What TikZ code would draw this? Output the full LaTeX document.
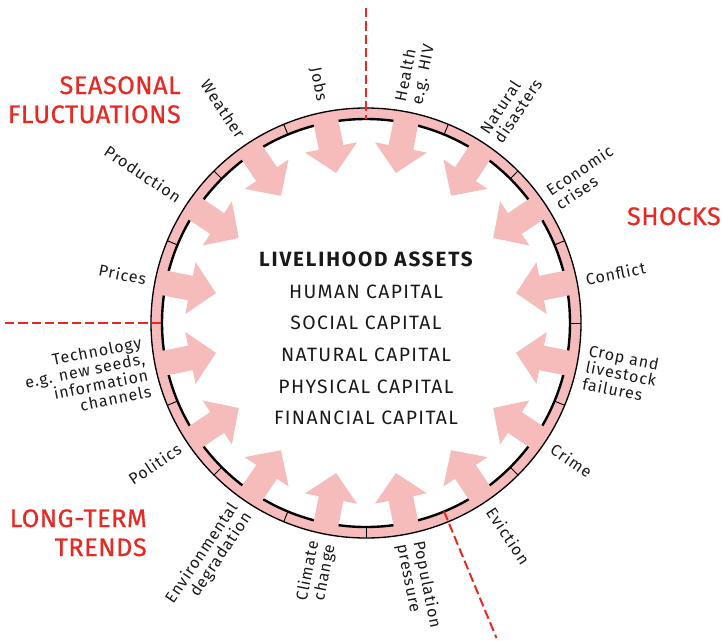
\documentclass[tikz,border=0pt]{standalone}
\usepackage{fontspec}
\setmainfont{Fira Sans}
\newfontfamily\lblfont[LetterSpace=6]{Fira Sans}
\newfontfamily\ctrfont[LetterSpace=7]{Fira Sans}
\newfontfamily\boldctrfont[LetterSpace=9]{Fira Sans}
\newfontfamily\ttlfont[LetterSpace=2,FakeBold=0.6]{Fira Sans}
\definecolor{pinkc}{RGB}{246,188,187}
\definecolor{redc}{RGB}{232,40,35}
\definecolor{inkc}{RGB}{25,25,25}
\begin{document}
\begin{tikzpicture}[x=0.75pt,y=0.75pt,
  lbl/.style={font=\lblfont\fontsize{12}{12.6}\selectfont, inner sep=0pt, text=inkc},
  lblR/.style={lbl, anchor=west, align=left},
  lblL/.style={lbl, anchor=east, align=right},
  ctr/.style={font=\ctrfont\fontsize{14.5}{16}\selectfont, inner sep=0pt, text=inkc, anchor=base},
  ttl/.style={font=\ttlfont\fontsize{19}{21}\selectfont, text=redc, inner sep=0pt},
  reddash/.style={draw=redc, line width=1.5pt, dash pattern=on 7pt off 3pt},
  tick/.style={draw=black, line width=0.7pt},
  blockarrow/.style={fill=pinkc, draw=none}]
\useasboundingbox (-366,-317) rectangle (357,323);
% ring
\fill[pinkc, even odd rule] (0,0) circle[radius=215] (0,0) circle[radius=204];
\draw[black, line width=1.8pt] (0,0) circle[radius=204];
\foreach \t in {0,22.5,45,67.5,112.5,135,157.5,202.5,225,247.5,270,315,337.5}
  \draw[tick] (\t:204) -- (\t:215);
% block arrows
\foreach \k in {0,...,15}{
  \pgfmathsetmacro{\ang}{11.25+22.5*\k}
  \fill[blockarrow, rotate=\ang] (215,12.5) -- (179,12.5) -- (179,26.5) -- (153,0)
     -- (179,-26.5) -- (179,-12.5) -- (215,-12.5) -- cycle;
}
\draw[black, line width=1pt] (0,0) circle[radius=215];
% red dashed dividers
\coordinate (d1a) at (90:204);   \coordinate (d1b) at (90:315);
\coordinate (d2a) at (180:204);  \coordinate (d2b) at (180:361);
\coordinate (d3a) at (-67.5:204);\coordinate (d3b) at (-67.5:341);
\draw[reddash] (d1b) -- (d1a);
\draw[reddash] (d2b) -- (d2a);
\draw[reddash] (d3a) -- (d3b);
% centre text
\node[ctr, font=\boldctrfont\bfseries\fontsize{15.5}{17}\selectfont] (la) at (0,57) {LIVELIHOOD ASSETS};
\node[ctr] (hc) at (0,25) {HUMAN CAPITAL};
\node[ctr] (sc) at (0,-6) {SOCIAL CAPITAL};
\node[ctr] (nc) at (0,-38) {NATURAL CAPITAL};
\node[ctr] (pc) at (0,-70) {PHYSICAL CAPITAL};
\node[ctr] (fc) at (0,-101) {FINANCIAL CAPITAL};
% red titles
\node[ttl, anchor=base east] (sf1) at (-185,229) {SEASONAL};
\node[ttl, anchor=base east] (sf2) at (-185,200) {FLUCTUATIONS};
\node[ttl, anchor=base east] (sh) at (355,98) {SHOCKS};
\node[ttl, anchor=base east] (lt1) at (-219,-204) {LONG-TERM};
\node[ttl, anchor=base east] (lt2) at (-219,-233) {TRENDS};
% labels
\node[lblR, rotate=11.25] (l1) at (11.25:224) {Conflict};
\node[lblR, rotate=-11.25] (l2) at (-11.25:224) {Crop and\\livestock\\failures};
\node[lblR, rotate=33.75] (l3) at (33.75:224) {Economic\\crises};
\node[lblR, rotate=-33.75] (l4) at (-33.75:224) {Crime};
\node[lblR, rotate=56.25] (l5) at (56.25:224) {Natural\\disasters};
\node[lblR, rotate=-56.25] (l6) at (-56.25:224) {Eviction};
\node[lblR, rotate=78.75] (l7) at (78.75:224) {Health\\e.g. HIV};
\node[lblR, rotate=-78.75] (l8) at (-78.75:224) {Population\\pressure};
\node[lblL, rotate=-78.75] (l9) at (101.25:226) {Jobs};
\node[lblL, rotate=78.75] (l10) at (-101.25:224) {Climate\\change};
\node[lblL, rotate=-56.25] (l11) at (123.75:224) {Weather};
\node[lblL, rotate=56.25] (l12) at (-123.75:224) {Environmental\\degradation};
\node[lblL, rotate=-33.75] (l13) at (146.25:224) {Production};
\node[lblL, rotate=33.75] (l14) at (-146.25:224) {Politics};
\node[lblL, rotate=-11.25] (l15) at (168.75:224) {Prices};
\node[lblL, rotate=11.25] (l16) at (-168.75:224) {Technology\\e.g. new seeds,\\information\\channels};
\end{tikzpicture}
\end{document}
